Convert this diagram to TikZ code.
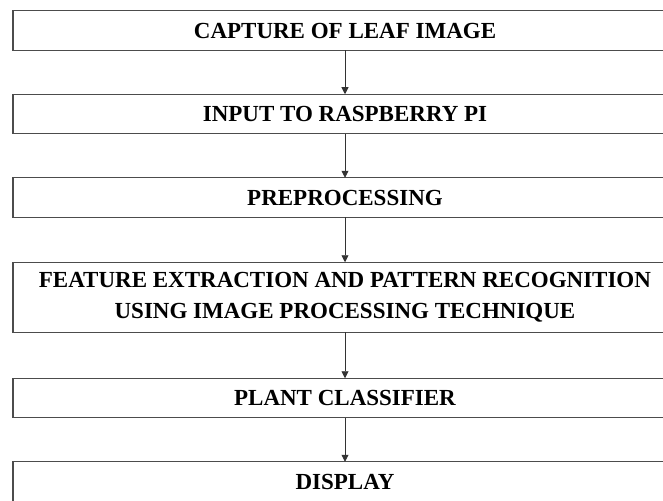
\documentclass[tikz,border=0pt]{standalone}
\usepackage{fontspec}
\setmainfont{Liberation Serif}
\usetikzlibrary{arrows.meta, positioning}

\begin{document}
\begin{tikzpicture}[
  x=1pt, y=1pt,
  node distance=44pt,
  box/.style={rectangle, draw=black!70, line width=1.4pt, minimum width=664pt, minimum height=39.5pt, align=center, inner sep=0pt, outer sep=0pt},
  arr/.style={-{Triangle[length=7pt, width=7pt]}, line width=0.9pt, draw=black!80},
  font=\bfseries\fontsize{23}{31}\selectfont
]
\useasboundingbox (0,0) rectangle (663,-500);
\clip (0,0) rectangle (663,-500);
\node[box] (capture) at (345,-30.5) {CAPTURE OF LEAF IMAGE};
\node[box, below=of capture] (input) {INPUT TO RASPBERRY PI};
\node[box, below=of input] (preproc) {PREPROCESSING};
\node[box, below=45pt of preproc, minimum height=70pt] (feature) {FEATURE EXTRACTION AND PATTERN RECOGNITION\\USING IMAGE PROCESSING TECHNIQUE};
\node[box, below=46pt of feature] (classifier) {PLANT CLASSIFIER};
\node[box, below=44pt of classifier] (display) {DISPLAY};
\draw[arr] (capture) -- (input);
\draw[arr] (input) -- (preproc);
\draw[arr] (preproc) -- (feature);
\draw[arr] (feature) -- (classifier);
\draw[arr] (classifier) -- (display);
\end{tikzpicture}
\end{document}
